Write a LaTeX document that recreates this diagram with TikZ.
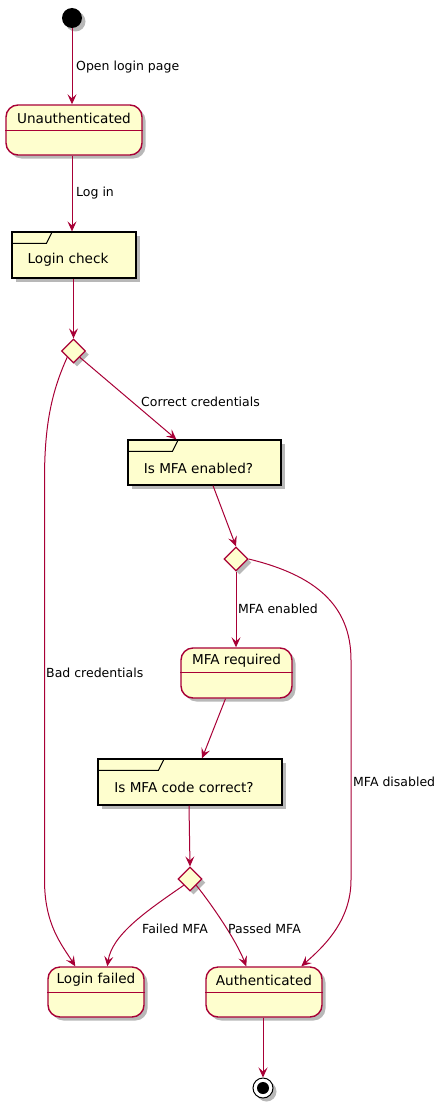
\documentclass[tikz,border=0pt]{standalone}
\usepackage{fontspec}
\setmainfont{DejaVu Sans}
\usetikzlibrary{shapes.geometric,shadows,calc,arrows.meta}
\definecolor{pfill}{HTML}{FEFECE}
\definecolor{pred}{HTML}{A80036}
\begin{document}
\begin{tikzpicture}[x=1pt,y=-1pt,
 shd/.style={drop shadow={shadow xshift=3.5pt,shadow yshift=-3.5pt,opacity=0.28,fill=black}},
 state/.style={draw=pred, line width=1.4pt, fill=pfill, rounded corners=12pt, minimum height=50pt, inner sep=0pt, shd},
 frm/.style={draw=black, line width=1.2pt, fill=pfill, minimum height=46pt, inner sep=0pt, shd},
 choice/.style={diamond, draw=pred, line width=1.2pt, fill=pfill, minimum width=24pt, minimum height=24pt, inner sep=0pt, shd},
 stxt/.style={font=\fontsize{13.6}{16}\selectfont, inner sep=0pt},
 ltxt/.style={font=\fontsize{12.5}{15}\selectfont, inner sep=0pt, anchor=west},
 arr/.style={draw=pred, line width=1pt, -{Stealth[length=10pt,width=9pt,inset=4pt]}},
 divl/.style={draw=pred, line width=1.2pt},
 tabl/.style={draw=black, line width=1pt},
]
\useasboundingbox (0,0) rectangle (447,1108);

% start and end
\node[circle, fill=black, minimum size=20pt, inner sep=0pt, shd] (start) at (72,18) {};
\node[circle, draw=black, line width=1pt, fill=white, minimum size=20pt, inner sep=0pt, shd] (end) at (263,1088) {};
\fill[black] (end.center) circle (6);

% states
\node[state, minimum width=136pt] (u) at (74,130) {};
\draw[divl] ($(u.north west)+(0,26)$) -- ($(u.north east)+(0,26)$);
\node[stxt] (ut) at (74,118) {Unauthenticated};

\node[state, minimum width=111pt] (mfar) at (236.5,673) {};
\draw[divl] ($(mfar.north west)+(0,25)$) -- ($(mfar.north east)+(0,25)$);
\node[stxt] (mfart) at (236.5,661) {MFA required};

\node[state, minimum width=96pt] (lf) at (96,992) {};
\draw[divl] ($(lf.north west)+(0,26)$) -- ($(lf.north east)+(0,26)$);
\node[stxt] (lft) at (96,980) {Login failed};

\node[state, minimum width=116pt] (auth) at (264,992) {};
\draw[divl] ($(auth.north west)+(0,26)$) -- ($(auth.north east)+(0,26)$);
\node[stxt] (autht) at (264,980) {Authenticated};

% frames
\node[frm, minimum width=124pt] (lc) at (74,255) {};
\draw[tabl] ($(lc.north west)+(0,12)$) -- ($(lc.north west)+(35,12)$) -- ($(lc.north west)+(41,0)$);
\node[stxt] (lct) at (68,260) {Login check};

\node[frm, minimum width=153pt, minimum height=45pt] (mfae) at (204.5,462.5) {};
\draw[tabl] ($(mfae.north west)+(0,12)$) -- ($(mfae.north west)+(45,12)$) -- ($(mfae.north west)+(51,0)$);
\node[stxt] (mfaet) at (198.5,468) {Is MFA enabled?};

\node[frm, minimum width=184pt] (mfac) at (190,782) {};
\draw[tabl] ($(mfac.north west)+(0,12)$) -- ($(mfac.north west)+(61,12)$) -- ($(mfac.north west)+(67,0)$);
\node[stxt] (mfact) at (184,787) {Is MFA code correct?};

% choices
\node[choice] (d1) at (73.5,351) {};
\node[choice] (d2) at (236,559) {};
\node[choice] (d3) at (190,879) {};

% connectors
\draw[arr] (start.south) -- (start |- u.north);
\draw[arr] (u.south -| start) -- (start |- lc.north);
\draw[arr] (lc.south -| d1) -- (d1.north);
\draw[arr] (d1.south east) -- ($(mfae.north west)+(49,0)$);
\draw[arr] (d1.south west) .. controls (50,395) and (44.5,430) .. (44.5,480) -- (44.5,880)
   .. controls (44.5,925) and (62,945) .. ($(lf.north west)+(28,0)$);
\draw[arr] ($(mfae.south)+(8.5,0)$) -- (d2.north);
\draw[arr] (d2.south) -- (d2 |- mfar.north);
\draw[arr] (d2.east) .. controls (315,575) and (351,605) .. (351,660) -- (351,880)
   .. controls (351,922) and (322,948) .. ($(auth.north west)+(96,0)$);
\draw[arr] ($(mfar.south)+(-11,0)$) -- ($(mfac.north)+(12,0)$);
\draw[arr] ($(mfac.south)+(-1,0)$) -- (d3.north);
\draw[arr] (d3.south west) .. controls (145,912) and (112,935) .. ($(lf.north west)+(60,0)$);
\draw[arr] (d3.south east) .. controls (212,905) and (236,940) .. ($(auth.north west)+(41,0)$);
\draw[arr] (auth.south -| end) -- (end.north);

% labels
\node[ltxt] (l1) at (76,67) {Open login page};
\node[ltxt] (l2) at (76,193) {Log in};
\node[ltxt] (l3) at (141,402) {Correct credentials};
\node[ltxt] (l4) at (46,673) {Bad credentials};
\node[ltxt] (l5) at (238,609) {MFA enabled};
\node[ltxt] (l6) at (353,782) {MFA disabled};
\node[ltxt] (l7) at (142,929) {Failed MFA};
\node[ltxt] (l8) at (228,929) {Passed MFA};
\end{tikzpicture}
\end{document}
